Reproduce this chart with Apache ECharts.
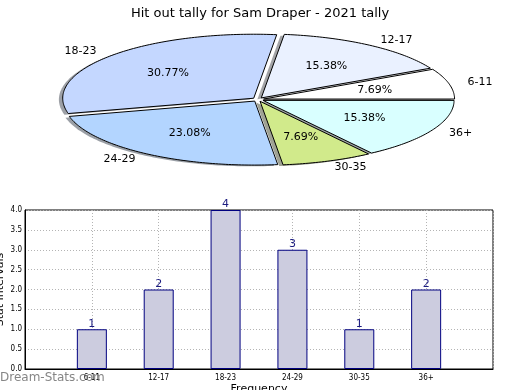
<!DOCTYPE html>
<html>
<head>
<meta charset="utf-8">
<script src="https://cdn.jsdelivr.net/npm/echarts@6/dist/echarts.min.js"></script>
<style>html,body{margin:0;padding:0;background:#fff}#c{width:520px;height:390px}</style>
</head>
<body>
<div id="c"></div>
<script>
// ---- data ----
var titleText = 'Hit out tally for Sam Draper - 2021 tally';
var categories = ['6-11', '12-17', '18-23', '24-29', '30-35', '36+'];
var tallies = [1, 2, 4, 3, 1, 2];
var yTicks = [0, 0.5, 1, 1.5, 2, 2.5, 3, 3.5, 4];
var sliceColors = ['#ffffff', '#eaf1ff', '#c4d7ff', '#b3d5ff', '#d1ea8b', '#d9ffff'];

// ---- pie layout (styling) ----
var PCX = 258, PCY = 99.5, PRX = 191, PRY = 64, EXPLODE = 0.03;
var FONT = 'DejaVu Sans';
var total = tallies.reduce(function (a, b) { return a + b; }, 0);

function sliceGeom(idx) {
  var start = 0;
  for (var k = 0; k < idx; k++) start += tallies[k];
  var a1 = start / total * 2 * Math.PI;
  var a2 = (start + tallies[idx]) / total * 2 * Math.PI;
  var mid = (a1 + a2) / 2;
  var ox = EXPLODE * PRX * Math.cos(mid), oy = -EXPLODE * PRY * Math.sin(mid);
  return { a1: a1, a2: a2, mid: mid, ox: ox, oy: oy };
}
function slicePoints(g, dx, dy) {
  var pts = [[PCX + g.ox + dx, PCY + g.oy + dy]];
  var n = Math.max(4, Math.ceil((g.a2 - g.a1) / (Math.PI / 180)));
  for (var s = 0; s <= n; s++) {
    var a = g.a1 + (g.a2 - g.a1) * s / n;
    pts.push([PCX + g.ox + dx + PRX * Math.cos(a), PCY + g.oy + dy - PRY * Math.sin(a)]);
  }
  return pts;
}
function darken(hex) {
  var r = parseInt(hex.substr(1, 2), 16), g = parseInt(hex.substr(3, 2), 16), b = parseInt(hex.substr(5, 2), 16);
  return 'rgba(' + Math.round(r * 0.3) + ',' + Math.round(g * 0.3) + ',' + Math.round(b * 0.3) + ',0.5)';
}

var pieData = tallies.map(function (v, i) { return [i, v]; });

var chart = echarts.init(document.getElementById('c'), null, { renderer: 'canvas' });
chart.setOption({
  animation: false,
  backgroundColor: '#ffffff',
  textStyle: { fontFamily: FONT },
  title: {
    text: titleText, left: 'center', top: 2,
    textStyle: { fontFamily: FONT, fontSize: 13, fontWeight: 'normal', color: '#000' }
  },
  grid: {
    left: 25, right: 27, top: 210, bottom: 21, outerBoundsMode: 'none', containLabel: false,
    show: true, borderColor: '#000', borderWidth: 1, backgroundColor: 'transparent'
  },
  xAxis: {
    type: 'value', min: -1, max: 6, interval: 1,
    name: 'Frequency', nameLocation: 'middle', nameGap: 15, nameMoveOverlap: false,
    nameTextStyle: { fontFamily: FONT, fontSize: 11, color: '#000' },
    axisLine: { show: true, onZero: false, lineStyle: { color: '#000', width: 1 } },
    axisTick: { show: false },
    axisLabel: {
      fontFamily: 'DejaVu Sans Condensed', fontSize: 8, color: '#000', margin: 5,
      formatter: function (v) { return categories[v] !== undefined ? categories[v] : ''; }
    },
    splitLine: { show: true, lineStyle: { color: '#b4b4b4', type: [1, 2], width: 1 } }
  },
  yAxis: {
    type: 'value', min: yTicks[0], max: yTicks[yTicks.length - 1], interval: yTicks[1] - yTicks[0],
    name: 'Stat Intervals', nameLocation: 'middle', nameGap: 19, nameMoveOverlap: false,
    nameTextStyle: { fontFamily: FONT, fontSize: 11, color: '#000' },
    axisLine: { show: true, onZero: false, lineStyle: { color: '#000', width: 1 } },
    axisTick: { show: false },
    axisLabel: {
      fontFamily: 'DejaVu Sans Condensed', fontSize: 8, color: '#000', margin: 3,
      formatter: function (v) { return v.toFixed(1); }
    },
    splitLine: { show: true, lineStyle: { color: '#b4b4b4', type: [1, 2], width: 1 } }
  },
  graphic: [{
    type: 'text', left: 0, top: 372, z: 100,
    style: { text: 'Dream-Stats.com', fill: 'rgba(120,120,120,0.9)', font: '12px "DejaVu Sans"' }
  }],
  series: [
    {
      type: 'custom', coordinateSystem: 'none', z: 1, silent: true,
      data: pieData,
      renderItem: function (params, api) {
        var i = api.value(0);
        var g = sliceGeom(i);
        return {
          type: 'polygon',
          shape: { points: slicePoints(g, -0.02 * PRX, 0.02 * PRY) },
          style: { fill: darken(sliceColors[i]), stroke: null }
        };
      }
    },
    {
      type: 'custom', coordinateSystem: 'none', z: 2, silent: true,
      data: pieData,
      renderItem: function (params, api) {
        var i = api.value(0);
        var g = sliceGeom(i);
        var pct = (api.value(1) / total * 100).toFixed(2) + '%';
        var cosm = Math.cos(g.mid), sinm = Math.sin(g.mid);
        return {
          type: 'group',
          children: [
            {
              type: 'polygon',
              shape: { points: slicePoints(g, 0, 0) },
              style: { fill: sliceColors[i], stroke: '#000', lineWidth: 1 }
            },
            {
              type: 'text', z2: 10,
              style: {
                text: pct, x: PCX + g.ox + 0.6 * PRX * cosm, y: PCY + g.oy - 0.6 * PRY * sinm,
                align: 'center', verticalAlign: 'middle', fill: '#000', font: '11px "DejaVu Sans"'
              }
            },
            {
              type: 'text', z2: 10,
              style: {
                text: categories[i], x: PCX + g.ox + 1.1 * PRX * cosm, y: PCY + g.oy - 1.1 * PRY * sinm,
                align: cosm > 0 ? 'left' : 'right', verticalAlign: 'middle', fill: '#000', font: '11px "DejaVu Sans"'
              }
            }
          ]
        };
      }
    },
    {
      type: 'bar', z: 3,
      data: tallies.map(function (v, i) { return [i, v]; }),
      barWidth: 30,
      itemStyle: { color: '#ccccdf', borderColor: '#000080', borderWidth: 1 },
      label: {
        show: true, position: 'top', distance: 0, color: '#1c1c80',
        fontFamily: FONT, fontSize: 11,
        formatter: function (p) { return String(p.value[1]); }
      }
    }
  ]
});
</script>
</body>
</html>
